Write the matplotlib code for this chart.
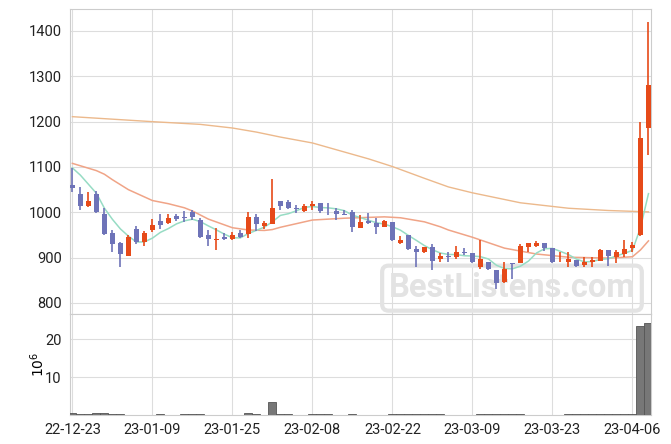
import numpy as np
import pandas as pd
import matplotlib
matplotlib.use("Agg")
import matplotlib.pyplot as plt

plt.rcParams["font.family"] = ["Roboto", "DejaVu Sans"]

# ---- data (prices in KRW, volume in millions) -----------------------------
tick_idx = [0, 10, 20, 30, 40, 50, 60, 70]
tick_lbl = ["22-12-23", "23-01-09", "23-01-25", "23-02-08",
            "23-02-22", "23-03-09", "23-03-23", "23-04-06"]

open_ = [1060, 1040, 1015, 1040, 996, 954, 932, 904, 963, 934,
         962, 981, 977, 992, 989, 1001, 983, 950, 940, 946,
         941, 954, 953, 990, 970, 975, 1024, 1023, 1010, 1004,
         1013, 1020, 1006, 1004, 996, 1001, 966, 980, 976, 968,
         979, 933, 950, 920, 913, 924, 897, 903, 902, 913,
         911, 880, 890, 873, 846, 888, 889, 924, 926, 932,
         921, 892, 891, 895, 884, 891, 893, 917, 901, 908,
         921, 950, 1187]
high = [1098, 1055, 1045, 1047, 1009, 962, 934, 950, 969, 958,
        985, 996, 996, 996, 1003, 1005, 987, 961, 966, 954,
        957, 961, 1000, 996, 981, 1073, 1024, 1028, 1016, 1018,
        1026, 1020, 1020, 1009, 1005, 1005, 993, 999, 988, 984,
        979, 948, 950, 926, 924, 931, 911, 912, 926, 921,
        911, 939, 891, 873, 890, 889, 930, 933, 937, 932,
        921, 913, 913, 895, 901, 901, 919, 917, 917, 939,
        935, 1199, 1419]
low = [1045, 1005, 1012, 998, 950, 912, 879, 904, 931, 925,
       957, 963, 975, 981, 979, 983, 943, 926, 917, 940,
       939, 943, 944, 959, 963, 974, 1005, 1007, 998, 1000,
       1005, 998, 994, 983, 994, 956, 966, 975, 952, 967,
       937, 930, 917, 880, 910, 873, 890, 890, 897, 906,
       889, 876, 873, 830, 843, 854, 888, 913, 924, 915,
       889, 891, 879, 880, 879, 880, 893, 882, 888, 901,
       913, 948, 1126]
close = [1054, 1015, 1025, 1000, 952, 931, 909, 946, 934, 954,
         972, 973, 988, 985, 988, 990, 946, 941, 941, 941,
         950, 945, 990, 975, 977, 1009, 1015, 1009, 1007, 1015,
         1018, 1004, 1005, 996, 995, 968, 978, 976, 968, 980,
         939, 940, 918, 913, 923, 893, 904, 902, 912, 910,
         890, 897, 876, 843, 874, 887, 926, 932, 932, 921,
         891, 893, 897, 882, 890, 895, 917, 904, 913, 919,
         928, 1165, 1281]
volume = [0.45, 0.15, 0.15, 0.4, 0.6, 0.15, 0.15, 0, 0, 0,
          0, 0.15, 0, 0, 0.15, 0.15, 0.15, 0, 0, 0,
          0, 0, 0.4, 0.15, 0, 3.4, 0.15, 0.15, 0, 0,
          0.15, 0.15, 0.15, 0, 0, 0.15, 0, 0, 0, 0,
          0.15, 0.15, 0.15, 0.15, 0.15, 0.15, 0.15, 0, 0, 0,
          0, 0.15, 0.15, 0.15, 0.15, 0.15, 0.15, 0, 0, 0,
          0, 0, 0.15, 0.15, 0.15, 0.15, 0.15, 0.15, 0.15, 0.15,
          0.15, 23.4, 24.1]

# moving averages: 5-day from closes (first 4),
# 20- and 120-day at sample days
ma5_head = [1098, 1082, 1062, 1042]
ma20_idx = [0, 3, 4, 5, 7, 10, 12, 14, 15, 17, 20, 22, 24, 25, 26, 30, 34,
            39, 41, 44, 46, 47, 50, 54, 58, 62, 67, 70, 71, 72]
ma20_val = [1108, 1092, 1084, 1072, 1050, 1026, 1019, 1010, 1003, 985, 966,
            961, 960, 962, 967, 983, 987, 990, 988, 979, 968, 961, 945, 921,
            908, 901, 899, 902, 917, 937]
ma120_idx = [0, 10, 16, 20, 23, 26, 30, 33, 37, 40, 44, 47, 50, 56, 62, 67, 72]
ma120_val = [1211, 1200, 1194, 1186, 1177, 1166, 1153, 1138, 1118, 1101,
             1075, 1056, 1043, 1021, 1009, 1004, 1001]

UP, DOWN = "#e64a19", "#6e73b8"
GRID = "#dddddd"

n = len(close)
x = np.arange(n)
o, h, l, c = map(np.array, (open_, high, low, close))
ma5 = pd.Series(close, dtype=float).rolling(5).mean().to_numpy()
ma5[:4] = ma5_head

fig = plt.figure(figsize=(6.71, 4.44), dpi=100)
ax = fig.add_axes([0.1043, 0.2928, 0.8657, 0.6869])
axv = fig.add_axes([0.1043, 0.0653, 0.8657, 0.2275], sharex=ax)

for a in (ax, axv):
    a.grid(True, color=GRID, lw=0.8)
    a.set_axisbelow(True)
    for s in a.spines.values():
        s.set_color("#cccccc")
    a.tick_params(length=0, labelsize=10.5, colors="#222222", pad=6)

# watermark sits behind the candles
ax.text(0.763, 0.351, "BestListens.com", transform=fig.transFigure,
        fontsize=23.5, weight="bold", color="#e3e3e3", ha="center",
        va="center", zorder=1, clip_on=False,
        bbox=dict(boxstyle="round,pad=0.2", fc="none", ec="#e3e3e3", lw=3))

# candles
cols = np.where(c >= o, UP, DOWN)
ax.vlines(x, l, h, colors=cols, lw=1.2, zorder=3)
ax.bar(x, np.maximum(np.abs(c - o), 1.2), bottom=np.minimum(o, c),
       width=0.72, color=cols, zorder=3)

ax.plot(ma120_idx, ma120_val, color="#ecb98c", lw=1.0, zorder=2)
ax.plot(ma20_idx, ma20_val, color="#f0a487", lw=1.1, zorder=2)
ax.plot(x, ma5, color="#97dcc4", lw=1.1, zorder=2)

ax.set_ylim(775.7, 1448.5)
ax.set_yticks([800, 900, 1000, 1100, 1200, 1300, 1400])
plt.setp(ax.get_xticklabels(), visible=False)

axv.bar(x, volume, width=1.0, color="#777777", edgecolor="#555555",
        lw=0.6, zorder=3)
axv.set_ylim(0, 26.6)
axv.set_yticks([10, 20])
axv.set_ylabel("$10^6$", fontsize=10, labelpad=-1)
axv.set_xticks(tick_idx)
axv.set_xticklabels(tick_lbl)
axv.set_xlim(-0.3, 72.3)

fig.savefig("out.png", dpi=100)
